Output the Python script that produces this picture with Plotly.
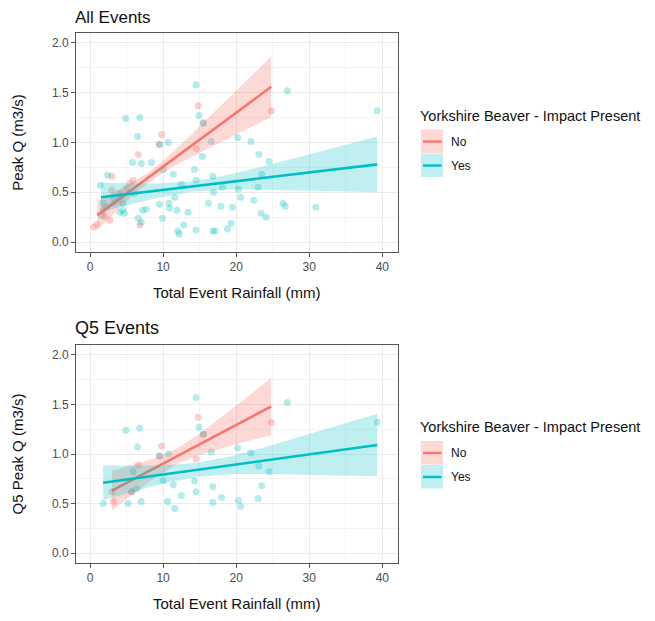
import plotly.graph_objects as go

# ---------------- data ----------------
# All events: points
all_no_x = [0.5, 0.9, 1.8, 2.0, 2.3, 2.7, 3.0, 3.0, 3.2, 3.9, 4.1, 5.0, 5.5, 5.9, 6.6, 6.8, 9.5, 9.8, 14.5, 14.8, 15.5, 24.8]
all_no_y = [0.15, 0.18, 0.32, 0.26, 0.35, 0.22, 0.66, 0.52, 0.39, 0.42, 0.49, 0.54, 0.59, 0.62, 0.88, 0.17, 0.98, 1.08, 0.94, 1.37, 1.20, 1.32]

all_yes_x = [14.5, 27.0, 39.3, 4.9, 6.8, 14.9, 6.5, 9.5, 10.7, 20.2, 22.0, 16.6, 15.5, 15.4, 23.1, 24.5,
             5.8, 7.0, 8.4, 2.4, 10.0, 11.4, 14.3, 14.5, 16.8, 23.5, 23.0, 12.5, 18.1, 20.3, 16.9, 20.6,
             4.3, 4.5, 4.5, 4.1, 4.7, 9.5, 10.8, 10.9, 11.6, 11.9, 13.4, 16.2, 17.9, 19.5, 22.4, 23.4,
             24.1, 26.4, 26.7, 30.9, 7.2, 7.7, 6.6, 7.0, 9.9, 12.8, 12.0, 12.2, 14.5, 16.8, 17.1, 18.8,
             19.3, 1.4, 1.8, 3.2, 1.6, 6.1]
all_yes_y = [1.58, 1.52, 1.32, 1.24, 1.25, 1.27, 1.06, 0.98, 1.00, 1.05, 1.01, 1.01, 1.19, 0.86, 0.88, 0.81,
             0.80, 0.79, 0.80, 0.67, 0.73, 0.68, 0.73, 0.62, 0.66, 0.68, 0.55, 0.58, 0.55, 0.53, 0.50, 0.45,
             0.46, 0.39, 0.32, 0.30, 0.29, 0.38, 0.39, 0.34, 0.45, 0.32, 0.30, 0.39, 0.36, 0.35, 0.42, 0.29,
             0.25, 0.39, 0.36, 0.35, 0.32, 0.33, 0.24, 0.20, 0.24, 0.17, 0.11, 0.08, 0.12, 0.11, 0.11, 0.13,
             0.19, 0.57, 0.39, 0.45, 0.27, 0.49]

# All events: fitted lines with confidence band
all_no_fit_x = [1, 3, 5, 8, 11, 14, 17, 20, 22.5, 24.8]
all_no_fit_y = [0.270, 0.378, 0.487, 0.649, 0.812, 0.975, 1.137, 1.300, 1.435, 1.560]
all_no_fit_lo = [0.125, 0.267, 0.407, 0.599, 0.742, 0.860, 0.971, 1.080, 1.170, 1.254]
all_no_fit_hi = [0.415, 0.489, 0.567, 0.699, 0.882, 1.090, 1.303, 1.520, 1.700, 1.866]

all_yes_fit_x = [1.5, 5, 9, 14, 19, 24, 29, 34, 39.3]
all_yes_fit_y = [0.450, 0.481, 0.515, 0.559, 0.603, 0.646, 0.690, 0.734, 0.780]
all_yes_fit_lo = [0.305, 0.371, 0.441, 0.509, 0.529, 0.526, 0.519, 0.511, 0.500]
all_yes_fit_hi = [0.595, 0.591, 0.589, 0.609, 0.677, 0.766, 0.861, 0.957, 1.060]

# Q5 events: points
q5_no_x = [3.0, 3.2, 5.7, 6.6, 9.5, 9.8, 14.5, 14.8, 15.5, 24.8]
q5_no_y = [0.62, 0.52, 0.62, 0.89, 0.98, 1.08, 0.95, 1.37, 1.20, 1.32]

q5_yes_x = [14.5, 27.0, 39.3, 4.9, 6.8, 14.9, 6.5, 9.5, 10.7, 20.2, 22.0, 16.6, 15.5, 23.1, 24.5,
            5.9, 10.0, 11.4, 14.3, 14.5, 16.8, 23.5, 23.0, 12.5, 18.0, 20.3, 20.6, 16.8, 11.6,
            10.6, 1.8, 5.2, 7.0, 5.7, 6.4]
q5_yes_y = [1.57, 1.52, 1.32, 1.24, 1.26, 1.27, 1.07, 0.98, 1.00, 1.06, 1.01, 1.02, 1.20, 0.88, 0.82,
            0.82, 0.73, 0.69, 0.73, 0.62, 0.67, 0.68, 0.55, 0.58, 0.56, 0.53, 0.47, 0.51, 0.45,
            0.52, 0.50, 0.50, 0.52, 0.62, 0.65]

q5_no_fit_x = [3, 6, 9, 12, 15, 18, 21, 24.8]
q5_no_fit_y = [0.630, 0.747, 0.864, 0.981, 1.098, 1.215, 1.332, 1.480]
q5_no_fit_lo = [0.430, 0.603, 0.766, 0.901, 0.991, 1.058, 1.118, 1.190]
q5_no_fit_hi = [0.830, 0.891, 0.962, 1.061, 1.205, 1.372, 1.546, 1.770]

q5_yes_fit_x = [1.8, 6, 10, 14.7, 19, 24, 29, 34, 39.3]
q5_yes_fit_y = [0.710, 0.753, 0.793, 0.841, 0.884, 0.935, 0.986, 1.036, 1.090]
q5_yes_fit_lo = [0.535, 0.624, 0.702, 0.771, 0.796, 0.799, 0.794, 0.785, 0.775]
q5_yes_fit_hi = [0.885, 0.882, 0.884, 0.911, 0.972, 1.071, 1.178, 1.287, 1.405]

x_ticks = [0, 10, 20, 30, 40]
y_ticks = [0.0, 0.5, 1.0, 1.5, 2.0]
groups = ["No", "Yes"]
legend_title = "Yorkshire Beaver - Impact Present"
panel_titles = ["All Events", "Q5 Events"]
y_titles = ["Peak Q (m3/s)", "Q5 Peak Q (m3/s)"]
x_title = "Total Event Rainfall (mm)"

# ---------------- styling ----------------
OFF = 8                      # page body margin in the browser
W, H = 655 - OFF, 621 - OFF  # figure size
FONT = "Liberation Sans, Arial, Helvetica, sans-serif"
COL = {"No": "#F8766D", "Yes": "#00BFC4"}
PT = {"No": "rgba(248,118,109,0.35)", "Yes": "rgba(0,191,196,0.3)"}
RIB = {"No": "rgba(248,118,109,0.28)", "Yes": "rgba(0,191,196,0.25)"}


def px(x):
    # window pixel -> paper x
    return (x - OFF) / W


def py(y):
    # window pixel -> paper y
    return 1 - (y - OFF) / H


fig = go.Figure()

panels = [
    ("x", "y", {"No": (all_no_x, all_no_y, all_no_fit_x, all_no_fit_y, all_no_fit_lo, all_no_fit_hi),
                "Yes": (all_yes_x, all_yes_y, all_yes_fit_x, all_yes_fit_y, all_yes_fit_lo, all_yes_fit_hi)}),
    ("x2", "y2", {"No": (q5_no_x, q5_no_y, q5_no_fit_x, q5_no_fit_y, q5_no_fit_lo, q5_no_fit_hi),
                  "Yes": (q5_yes_x, q5_yes_y, q5_yes_fit_x, q5_yes_fit_y, q5_yes_fit_lo, q5_yes_fit_hi)}),
]

for xa, ya, d in panels:
    for g in groups:
        xs, ys = d[g][0], d[g][1]
        fig.add_trace(go.Scatter(x=xs, y=ys, mode="markers", xaxis=xa, yaxis=ya,
                                 marker=dict(color=PT[g], size=7, line=dict(width=0)),
                                 showlegend=False, name=g, hoverinfo="skip"))
    for g in groups:
        fx, fy, lo, hi = d[g][2], d[g][3], d[g][4], d[g][5]
        fig.add_trace(go.Scatter(x=list(fx) + list(fx)[::-1], y=list(hi) + list(lo)[::-1],
                                 mode="lines", fill="toself", fillcolor=RIB[g],
                                 line=dict(width=0), xaxis=xa, yaxis=ya,
                                 showlegend=False, hoverinfo="skip"))
        fig.add_trace(go.Scatter(x=fx, y=fy, mode="lines", xaxis=xa, yaxis=ya,
                                 line=dict(color=COL[g], width=2.6),
                                 showlegend=False, name=g))

xdom = [px(76), px(397.5)]
ydoms = [[py(252), py(33)], [py(563), py(345)]]

axis_common = dict(
    showline=True, mirror=True, linecolor="#555555", linewidth=1,
    ticks="outside", ticklen=4, tickcolor="#555555", tickwidth=1,
    showgrid=True, gridcolor="#EBEBEB", gridwidth=1.2,
    zeroline=False,
    tickfont=dict(family=FONT, size=12, color="#4D4D4D"),
)

for i, (xa, ya) in enumerate([("xaxis", "yaxis"), ("xaxis2", "yaxis2")]):
    xanchor = "y" if i == 0 else "y2"
    yanchor = "x" if i == 0 else "x2"
    fig.update_layout({
        xa: dict(axis_common, domain=xdom, anchor=xanchor, range=[-1.92, 42.07],
                 tickvals=x_ticks, ticktext=[str(v) for v in x_ticks],
                 minor=dict(tickvals=[5, 15, 25, 35], showgrid=True, gridcolor="#F4F4F4", gridwidth=0.7, ticks=""),
                 title=dict(text=x_title, font=dict(family=FONT, size=15, color="#111111"), standoff=14),
                 automargin=False),
        ya: dict(axis_common, domain=ydoms[i], anchor=yanchor, range=[-0.1, 2.1],
                 tickvals=y_ticks, ticktext=["%.1f" % v for v in y_ticks],
                 minor=dict(tickvals=[0.25, 0.75, 1.25, 1.75], showgrid=True, gridcolor="#F4F4F4", gridwidth=0.7, ticks=""),
                 title=dict(text=y_titles[i], font=dict(family=FONT, size=15, color="#111111"), standoff=24),
                 automargin=False),
    })

annotations = []
shapes = []
for t, yc, fs in zip(panel_titles, [18, 328], [17, 18]):
    annotations.append(dict(text=t, x=px(74), y=py(yc), xref="paper", yref="paper",
                            xanchor="left", yanchor="middle", showarrow=False, borderpad=0,
                            font=dict(family=FONT, size=fs, color="#111111")))

for title_y in [115.5, 427]:
    annotations.append(dict(text=legend_title, x=px(418), y=py(title_y), xref="paper", yref="paper",
                            xanchor="left", yanchor="middle", showarrow=False,
                            font=dict(family=FONT, size=14.5, color="#111111")))
    for k, g in enumerate(groups):
        top = title_y + 14 + k * 24
        shapes.append(dict(type="rect", xref="paper", yref="paper",
                           x0=px(421), x1=px(443), y0=py(top + 23.5), y1=py(top),
                           fillcolor=RIB[g], line=dict(width=0), layer="above"))
        cy = top + 12
        shapes.append(dict(type="line", xref="paper", yref="paper",
                           x0=px(423), x1=px(441.5), y0=py(cy), y1=py(cy),
                           line=dict(color=COL[g], width=2.4), layer="above"))
        annotations.append(dict(text=g, x=px(449), y=py(cy), xref="paper", yref="paper",
                                xanchor="left", yanchor="middle", showarrow=False,
                                font=dict(family=FONT, size=12, color="#111111")))

fig.update_layout(
    width=W, height=H,
    margin=dict(l=0, r=0, t=0, b=0),
    paper_bgcolor="white", plot_bgcolor="white",
    showlegend=False,
    annotations=annotations, shapes=shapes,
    font=dict(family=FONT),
)

fig.write_html("out.html")
